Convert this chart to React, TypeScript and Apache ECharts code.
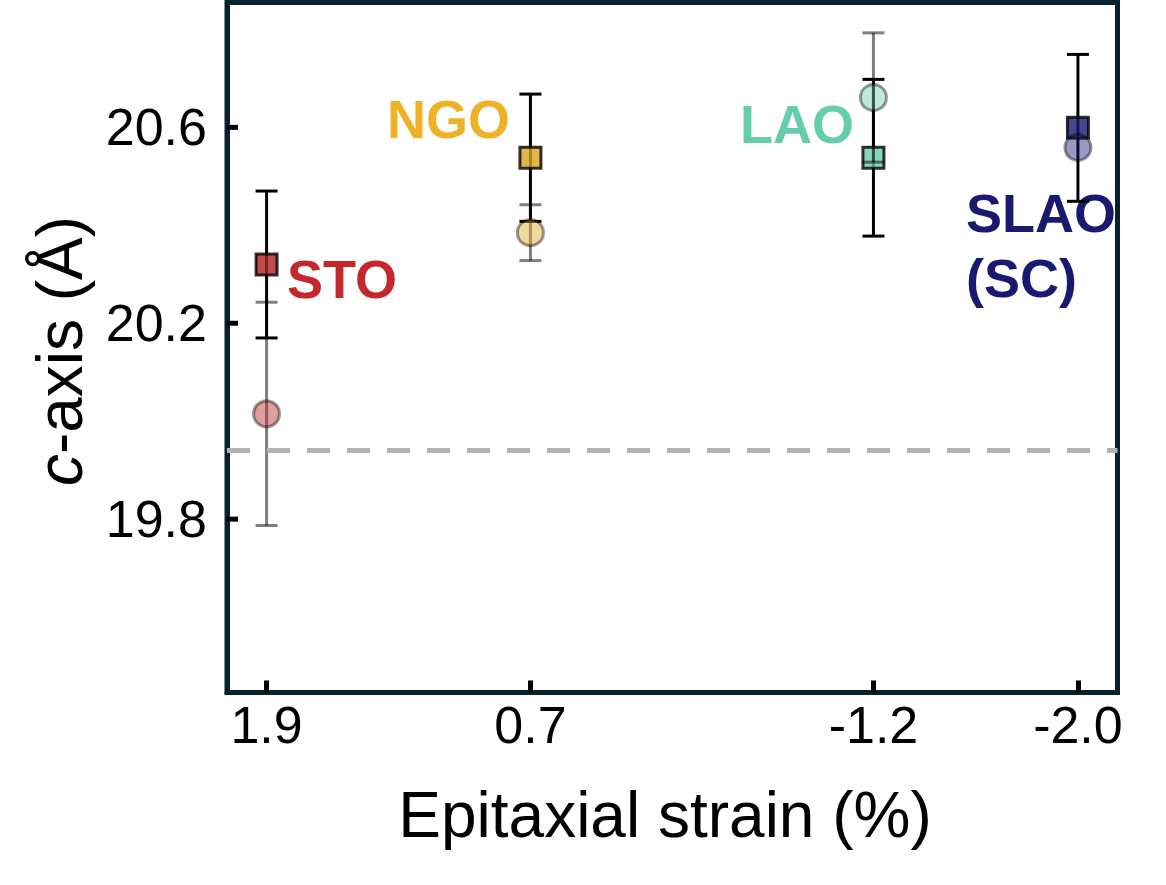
import React, { useEffect, useRef } from "react";
import * as echarts from "echarts";

// ---- data ----
const substrates = ["STO", "NGO", "LAO", "SLAO (SC)"];
const strainLabels = ["1.9", "0.7", "-1.2", "-2.0"];
// axis positions of each substrate along the (non-linear) strain axis
const xPositions = [0, 1.2, 2.76, 3.69];
// squares (black error bars)
const squareValues = [20.32, 20.538, 20.538, 20.599];
const squareErrors = [0.15, 0.13, 0.16, 0.15];
// circles (grey error bars)
const circleValues = [20.015, 20.385, 20.661, 20.559];
const circleErrors = [0.228, 0.057, 0.132, 0];
const substrateColors = ["#b22222", "#daa520", "#66cdaa", "#191970"];
const labelColors = ["#c4282c", "#eeb228", "#66cdaa", "#191970"];
const referenceLine = 19.941;
const yTicks = [19.8, 20.2, 20.6];

const FONT = "'Liberation Sans', Arial, Helvetica, sans-serif";
const FRAME = "#08212f";
const X_MIN = -0.18;
const X_MAX = 3.87;

function hexToRgba(hex: string, a: number) {
  const n = parseInt(hex.slice(1), 16);
  return `rgba(${(n >> 16) & 255},${(n >> 8) & 255},${n & 255},${a})`;
}

function errorBarRenderer(color: string) {
  return (params: any, api: any) => {
    const x = api.value(0);
    const lo = api.value(1);
    const hi = api.value(2);
    const pLo = api.coord([x, lo]);
    const pHi = api.coord([x, hi]);
    const hw = 11;
    const style = { stroke: color, lineWidth: 3, fill: null };
    return {
      type: "group",
      children: [
        { type: "line", shape: { x1: pLo[0], y1: pLo[1], x2: pHi[0], y2: pHi[1] }, style },
        { type: "line", shape: { x1: pLo[0] - hw, y1: pLo[1], x2: pLo[0] + hw, y2: pLo[1] }, style },
        { type: "line", shape: { x1: pHi[0] - hw, y1: pHi[1], x2: pHi[0] + hw, y2: pHi[1] }, style },
      ],
    };
  };
}

// inward tick marks drawn against the left frame, positioned through the y scale
function yTickRenderer(params: any, api: any) {
  const p = api.coord([X_MIN, api.value(1)]);
  return {
    type: "rect",
    shape: { x: p[0], y: p[1] - 2.5, width: 11, height: 5 },
    style: { fill: "#000" },
  };
}

export default function App() {
  const ref = useRef<HTMLDivElement>(null);
  useEffect(() => {
    if (!ref.current) return;
    const chart = echarts.init(ref.current, undefined, { renderer: "svg" });

    const blackBars = xPositions.map((x, i) => [x, squareValues[i] - squareErrors[i], squareValues[i] + squareErrors[i]]);
    const greyBars = xPositions
      .map((x, i) => [x, circleValues[i] - circleErrors[i], circleValues[i] + circleErrors[i], circleErrors[i]])
      .filter((d) => d[3] > 0)
      .map((d) => [d[0], d[1], d[2]]);

    const squares = xPositions.map((x, i) => ({
      value: [x, squareValues[i]],
      itemStyle: { color: substrateColors[i], borderColor: "#000", borderWidth: 3 },
    }));
    const circles = xPositions.map((x, i) => ({
      value: [x, circleValues[i]],
      itemStyle: { color: hexToRgba(substrateColors[i], 0.55), borderColor: "rgba(0,0,0,0.5)", borderWidth: 3 },
    }));

    const labelSize = 54;
    const lab = (text: string, x: number, baseline: number, color: string) => ({
      type: "text",
      x,
      y: baseline - 0.36 * labelSize,
      style: {
        text,
        fill: color,
        font: `bold ${labelSize}px ${FONT}`,
        textAlign: "left",
        textVerticalAlign: "middle",
      },
    });

    chart.setOption({
      animation: false,
      backgroundColor: "#fff",
      grid: {
        left: 227,
        right: 48.5,
        top: 2.5,
        bottom: 192.5,
        show: true,
        borderColor: FRAME,
        borderWidth: 5,
        containLabel: false,
      },
      xAxis: {
        type: "value",
        position: "bottom",
        min: X_MIN,
        max: X_MAX,
        splitLine: { show: false },
        axisLine: { show: true, onZero: false, lineStyle: { color: FRAME, width: 5 } },
        axisTick: {
          show: true,
          inside: true,
          length: 12,
          lineStyle: { color: "#000", width: 5 },
          customValues: xPositions,
        },
        axisLabel: {
          show: true,
          customValues: xPositions,
          formatter: (v: number) => {
            const idx = xPositions.findIndex((p) => Math.abs(p - v) < 1e-6);
            return idx >= 0 ? strainLabels[idx] : "";
          },
          fontSize: 52,
          fontFamily: FONT,
          color: "#000",
          margin: 6,
        },
      },
      yAxis: {
        type: "value",
        position: "left",
        min: 19.446,
        max: 20.855,
        splitLine: { show: false },
        axisLine: { show: true, onZero: false, lineStyle: { color: FRAME, width: 5 } },
        axisTick: { show: false },
        axisLabel: {
          show: true,
          customValues: yTicks,
          formatter: (v: number) => v.toFixed(1),
          fontSize: 52,
          fontFamily: FONT,
          color: "#000",
          margin: 20,
        },
      },
      series: [
        {
          type: "custom",
          z: 20,
          silent: true,
          renderItem: yTickRenderer,
          encode: { x: 0, y: 1 },
          data: yTicks.map((t) => [X_MIN, t]),
        },
        {
          type: "custom",
          z: 2,
          renderItem: errorBarRenderer("#000"),
          encode: { x: 0, y: [1, 2] },
          data: blackBars,
        },
        {
          type: "scatter",
          z: 3,
          symbol: "rect",
          symbolSize: 21,
          data: squares,
          markLine: {
            silent: true,
            symbol: "none",
            label: { show: false },
            lineStyle: { color: "#b3b3b3", width: 5, type: [23, 17] },
            data: [{ yAxis: referenceLine }],
          },
        },
        {
          type: "custom",
          z: 4,
          renderItem: errorBarRenderer("rgba(0,0,0,0.5)"),
          encode: { x: 0, y: [1, 2] },
          data: greyBars,
        },
        {
          type: "scatter",
          z: 5,
          symbol: "circle",
          symbolSize: 26,
          data: circles,
        },
      ],
      graphic: [
        lab(substrates[0], 287, 298, labelColors[0]),
        lab(substrates[1], 387, 138, labelColors[1]),
        lab(substrates[2], 740, 143, labelColors[2]),
        lab("SLAO", 966, 232, labelColors[3]),
        lab("(SC)", 966, 297, labelColors[3]),
        {
          type: "text",
          x: 665,
          y: 815,
          style: {
            text: "Epitaxial strain (%)",
            fill: "#000",
            font: `64px ${FONT}`,
            textAlign: "center",
            textVerticalAlign: "middle",
          },
        },
        {
          type: "text",
          x: 60,
          y: 351,
          rotation: Math.PI / 2,
          style: {
            text: "{i|c}{n|-axis (Å)}",
            fill: "#000",
            font: `64px ${FONT}`,
            textAlign: "center",
            textVerticalAlign: "middle",
            rich: {
              i: { fontStyle: "italic", fontSize: 64, fontFamily: FONT, fill: "#000" },
              n: { fontSize: 64, fontFamily: FONT, fill: "#000" },
            },
          },
        },
      ],
    });

    return () => chart.dispose();
  }, []);
  return (
    <div
      ref={ref}
      style={{ position: "absolute", left: 0, top: 0, width: 1166, height: 885 }}
    />
  );
}
